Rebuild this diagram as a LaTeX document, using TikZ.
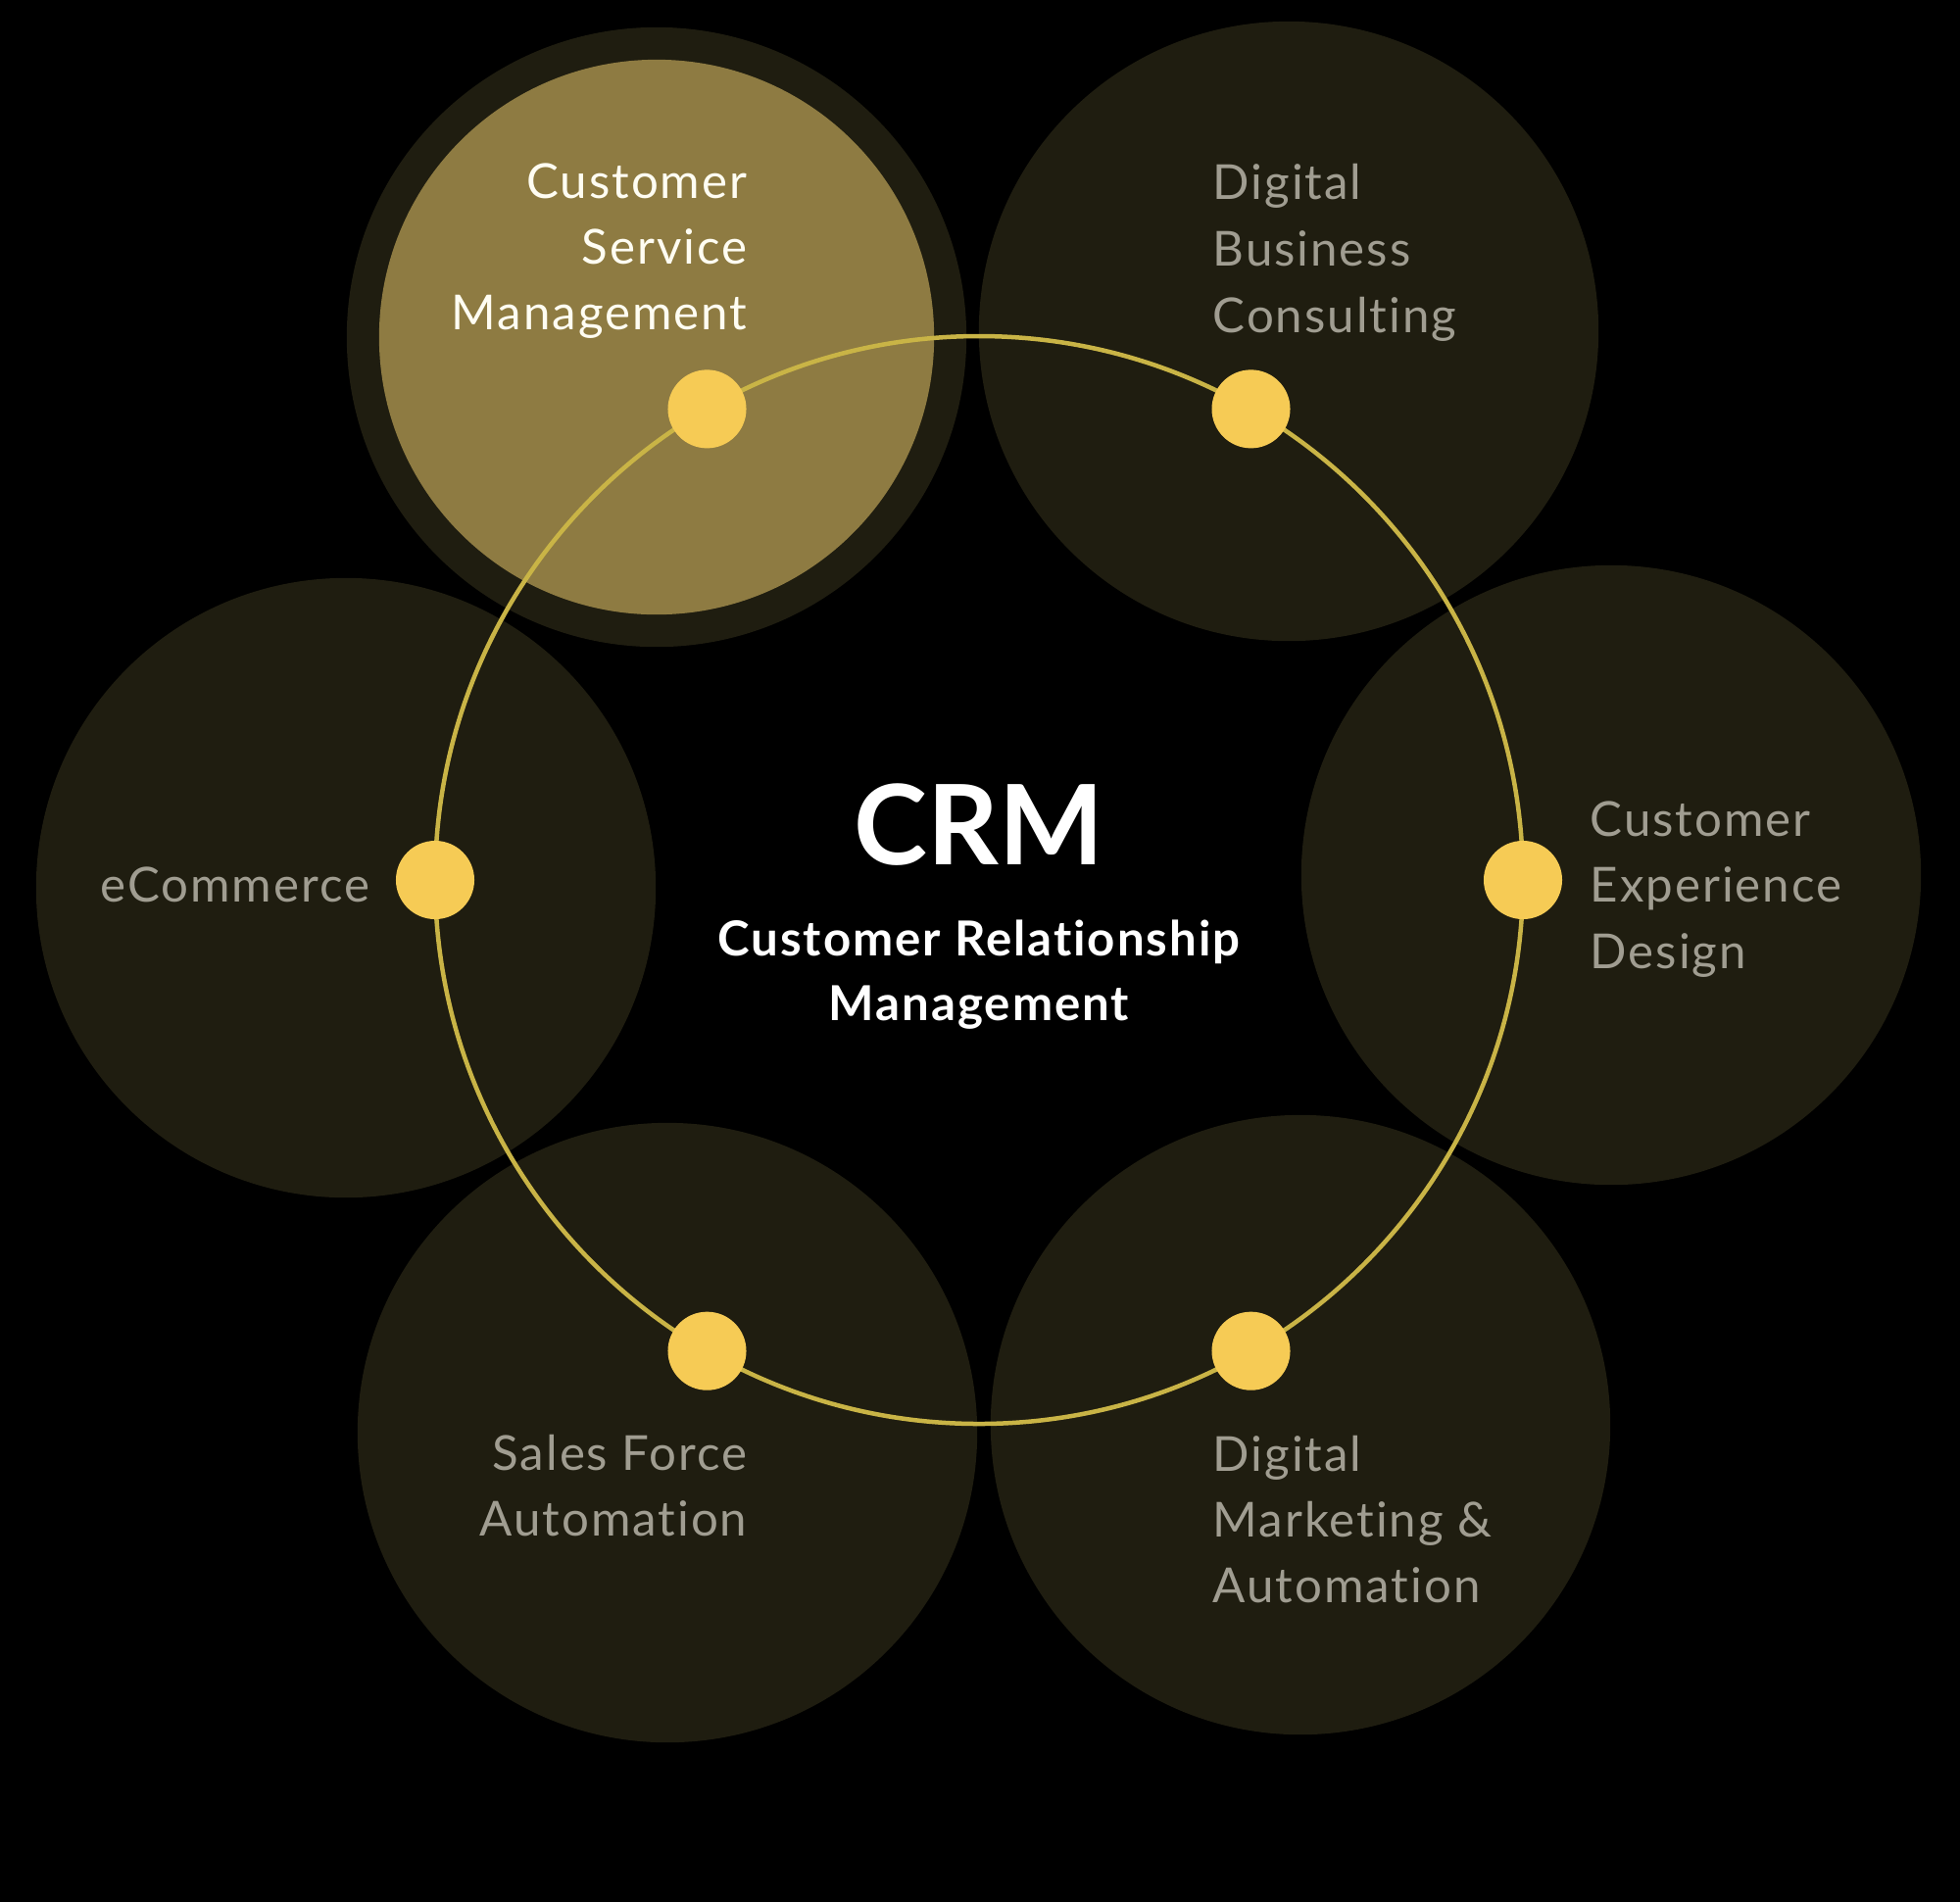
\documentclass[tikz,border=0pt]{standalone}
\usepackage{fontspec}
\usetikzlibrary{calc}
\setmainfont{Lato}[LetterSpace=4, Ligatures=NoCommon]
\newfontfamily\crmfont{Lato}[Ligatures=NoCommon]
\definecolor{bubblefill}{RGB}{31,29,16}
\definecolor{hifill}{RGB}{142,123,66}
\definecolor{ringcol}{RGB}{201,180,70}
\definecolor{dotcol}{RGB}{246,203,85}
\definecolor{greytext}{RGB}{160,157,145}
\definecolor{whitetext}{RGB}{255,253,242}
\tikzset{
  bubble/.style={circle, fill=bubblefill, minimum size=6.32cm, inner sep=0pt, draw=none},
  hibubble/.style={circle, fill=hifill, minimum size=5.66cm, inner sep=0pt, draw=none},
  ringline/.style={draw=ringcol, line width=0.045cm},
  dotnode/.style={circle, fill=dotcol, minimum size=0.80cm, inner sep=0pt, draw=none},
  lbl/.style={inner sep=0pt, text=greytext, font=\fontsize{14}{16}\selectfont},
  hilbl/.style={lbl, text=whitetext},
  subtitle/.style={inner sep=0pt, text=white, font=\fontsize{14}{16}\selectfont\bfseries},
  crm/.style={inner sep=0pt, text=white, font=\crmfont\fontsize{32.2}{36}\selectfont\bfseries}
}
\begin{document}
\begin{tikzpicture}[x=0.01cm, y=-0.01cm]
\fill[black] (0,0) rectangle (2000,1941);
\useasboundingbox (0,0) rectangle (2000,1941);

% bubbles
\node[bubble] (csmouter) at (670,344) {};
\node[hibubble] (csm) at (670,344) {};
\node[bubble] (dbc) at (1315,338) {};
\node[bubble] (ced) at (1644,893) {};
\node[bubble] (dma) at (1327,1454) {};
\node[bubble] (sfa) at (681,1462) {};
\node[bubble] (ecom) at (353,906) {};

% ring
\coordinate (C) at (999,898);
\draw[ringline] (C) circle[radius=555];

% dots
\node[dotnode] (d120) at ($(C)+(120:555)$) {};
\node[dotnode] (d60) at ($(C)+(60:555)$) {};
\node[dotnode] (d0) at ($(C)+(0:555)$) {};
\node[dotnode] (d300) at ($(C)+(300:555)$) {};
\node[dotnode] (d240) at ($(C)+(240:555)$) {};
\node[dotnode] (d180) at ($(C)+(180:555)$) {};

% labels
\node[hilbl, anchor=base east] (csm1) at (763,202) {Customer};
\node[hilbl, anchor=base east] (csm2) at (763,269) {Service};
\node[hilbl, anchor=base east] (csm3) at (763,336) {Management};

\node[lbl, anchor=base west] (dbc1) at (1237,203) {Digital};
\node[lbl, anchor=base west] (dbc2) at (1237,271) {Business};
\node[lbl, anchor=base west] (dbc3) at (1237,339) {Consulting};

\node[lbl, anchor=base west] (ced1) at (1622,853) {Customer};
\node[lbl, anchor=base west] (ced2) at (1622,920) {Experience};
\node[lbl, anchor=base west] (ced3) at (1622,988) {Design};

\node[lbl, anchor=base east] (ecom1) at (378,920) {eCommerce};

\node[lbl, anchor=base east] (sfa1) at (763,1500) {Sales Force};
\node[lbl, anchor=base east] (sfa2) at (763,1567) {Automation};

\node[lbl, anchor=base west] (dma1) at (1237,1501) {Digital};
\node[lbl, anchor=base west] (dma2) at (1237,1568) {Marketing \&};
\node[lbl, anchor=base west] (dma3) at (1237,1635) {Automation};

% centre
\node[crm, anchor=base] (crmtitle) at (999,882) {CRM};
\node[subtitle, anchor=base] (sub1) at (999,975) {Customer Relationship};
\node[subtitle, anchor=base] (sub2) at (999,1041) {Management};
\end{tikzpicture}
\end{document}
